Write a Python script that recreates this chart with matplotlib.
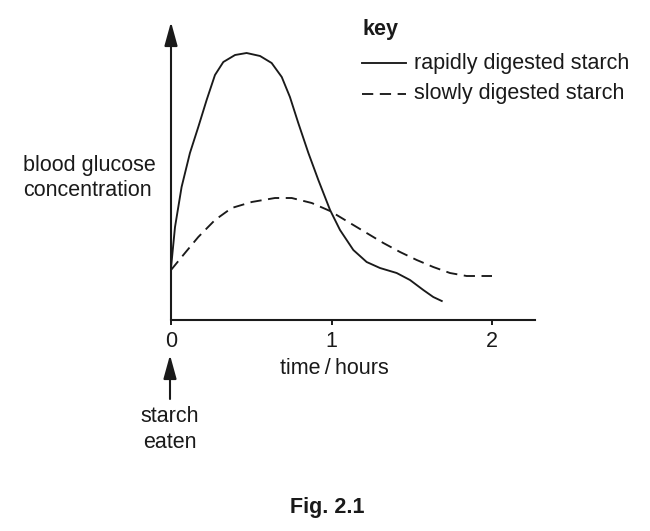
import matplotlib
matplotlib.use("Agg")
import matplotlib.pyplot as plt
from matplotlib.lines import Line2D

plt.rcParams['font.family'] = ['Liberation Sans', 'DejaVu Sans']

# ---- data (y in arbitrary concentration units) ----
rapid_t = [0.0, 0.025, 0.066, 0.118, 0.170, 0.222, 0.274, 0.326, 0.399, 0.471,
           0.555, 0.627, 0.690, 0.741, 0.793, 0.856, 0.918, 0.991, 1.053, 1.136,
           1.219, 1.302, 1.406, 1.489, 1.572, 1.634, 1.687]
rapid_y = [52, 93, 133, 167, 193, 220, 245, 258, 265, 267,
           264, 257, 243, 223, 197, 167, 140, 110, 90, 70,
           58, 52, 47, 40, 30, 23, 19]
slow_t = [0.0, 0.087, 0.170, 0.274, 0.378, 0.503, 0.648, 0.752, 0.877, 0.991,
          1.115, 1.219, 1.323, 1.427, 1.531, 1.634, 1.738, 1.842, 2.0]
slow_y = [50, 67, 83, 100, 112, 118, 122, 122, 117, 109,
          97, 87, 77, 68, 60, 53, 47, 44, 44]
xticks = [0, 1, 2]
xtick_labels = ['0', '1', '2']
key_labels = ['rapidly digested starch', 'slowly digested starch']

W, H = 650, 531
fig = plt.figure(figsize=(W / 100, H / 100), dpi=100)
ax = fig.add_axes([171 / W, 1 - 320 / H, (535 - 171) / W, (320 - 22) / H])
ax.set_xlim(0, (535 - 171) / 160.5)
ax.set_ylim(0, 298)

ink = '#1a1a1a'
fs = 15.5
lw_curve = 1.35

ax.plot(rapid_t, rapid_y, color=ink, lw=lw_curve, solid_joinstyle='round')
ax.plot(slow_t, slow_y, color=ink, lw=lw_curve, dashes=(6, 3.5))

for s in ['top', 'right', 'left']:
    ax.spines[s].set_visible(False)
ax.spines['bottom'].set_linewidth(1.5)
ax.spines['bottom'].set_color(ink)

ax.annotate('', xy=(0, 298), xytext=(0, 0), xycoords='data',
            arrowprops=dict(arrowstyle='-|>,head_length=14.5,head_width=4',
                            mutation_scale=1, lw=1.5, color=ink,
                            shrinkA=0, shrinkB=0), annotation_clip=False)

ax.set_xticks(xticks)
ax.set_xticklabels(xtick_labels)
ax.tick_params(axis='x', direction='out', length=3.6, width=1.4, color=ink,
               labelsize=fs, pad=4, labelcolor=ink)
ax.set_yticks([])

def ftext(x, y, s, **kw):
    fig.text(x / W, 1 - y / H, s, color=ink, **kw)

ftext(334, 369, 'time\u2009/\u2009hours', ha='center', va='center', fontsize=fs)
ftext(23, 165, 'blood glucose', ha='left', va='center', fontsize=fs)
ftext(23, 190, 'concentration', ha='left', va='center', fontsize=fs)
ftext(170, 417, 'starch', ha='center', va='center', fontsize=fs)
ftext(170, 443, 'eaten', ha='center', va='center', fontsize=fs)
ftext(327, 507, 'Fig. 2.1', ha='center', va='center', fontsize=fs, fontweight='bold')

# starch eaten arrow
ax.annotate('', xy=(170 / W, 1 - 355 / H), xytext=(170 / W, 1 - 399 / H),
            xycoords='figure fraction', textcoords='figure fraction',
            arrowprops=dict(arrowstyle='-|>,head_length=14.5,head_width=4',
                            mutation_scale=1, lw=1.5, color=ink,
                            shrinkA=0, shrinkB=0), annotation_clip=False)

# key
ftext(362, 30, 'key', ha='left', va='center', fontsize=fs, fontweight='bold')
fig.add_artist(Line2D([362 / W, 406 / W], [1 - 63 / H, 1 - 63 / H],
                      transform=fig.transFigure, color=ink, lw=lw_curve))
fig.add_artist(Line2D([362 / W, 406 / W], [1 - 94 / H, 1 - 94 / H],
                      transform=fig.transFigure, color=ink, lw=lw_curve, dashes=(6, 3.5)))
ftext(414, 63, key_labels[0], ha='left', va='center', fontsize=fs)
ftext(414, 94, key_labels[1], ha='left', va='center', fontsize=fs)

fig.savefig('out.png', dpi=100, facecolor='white')
